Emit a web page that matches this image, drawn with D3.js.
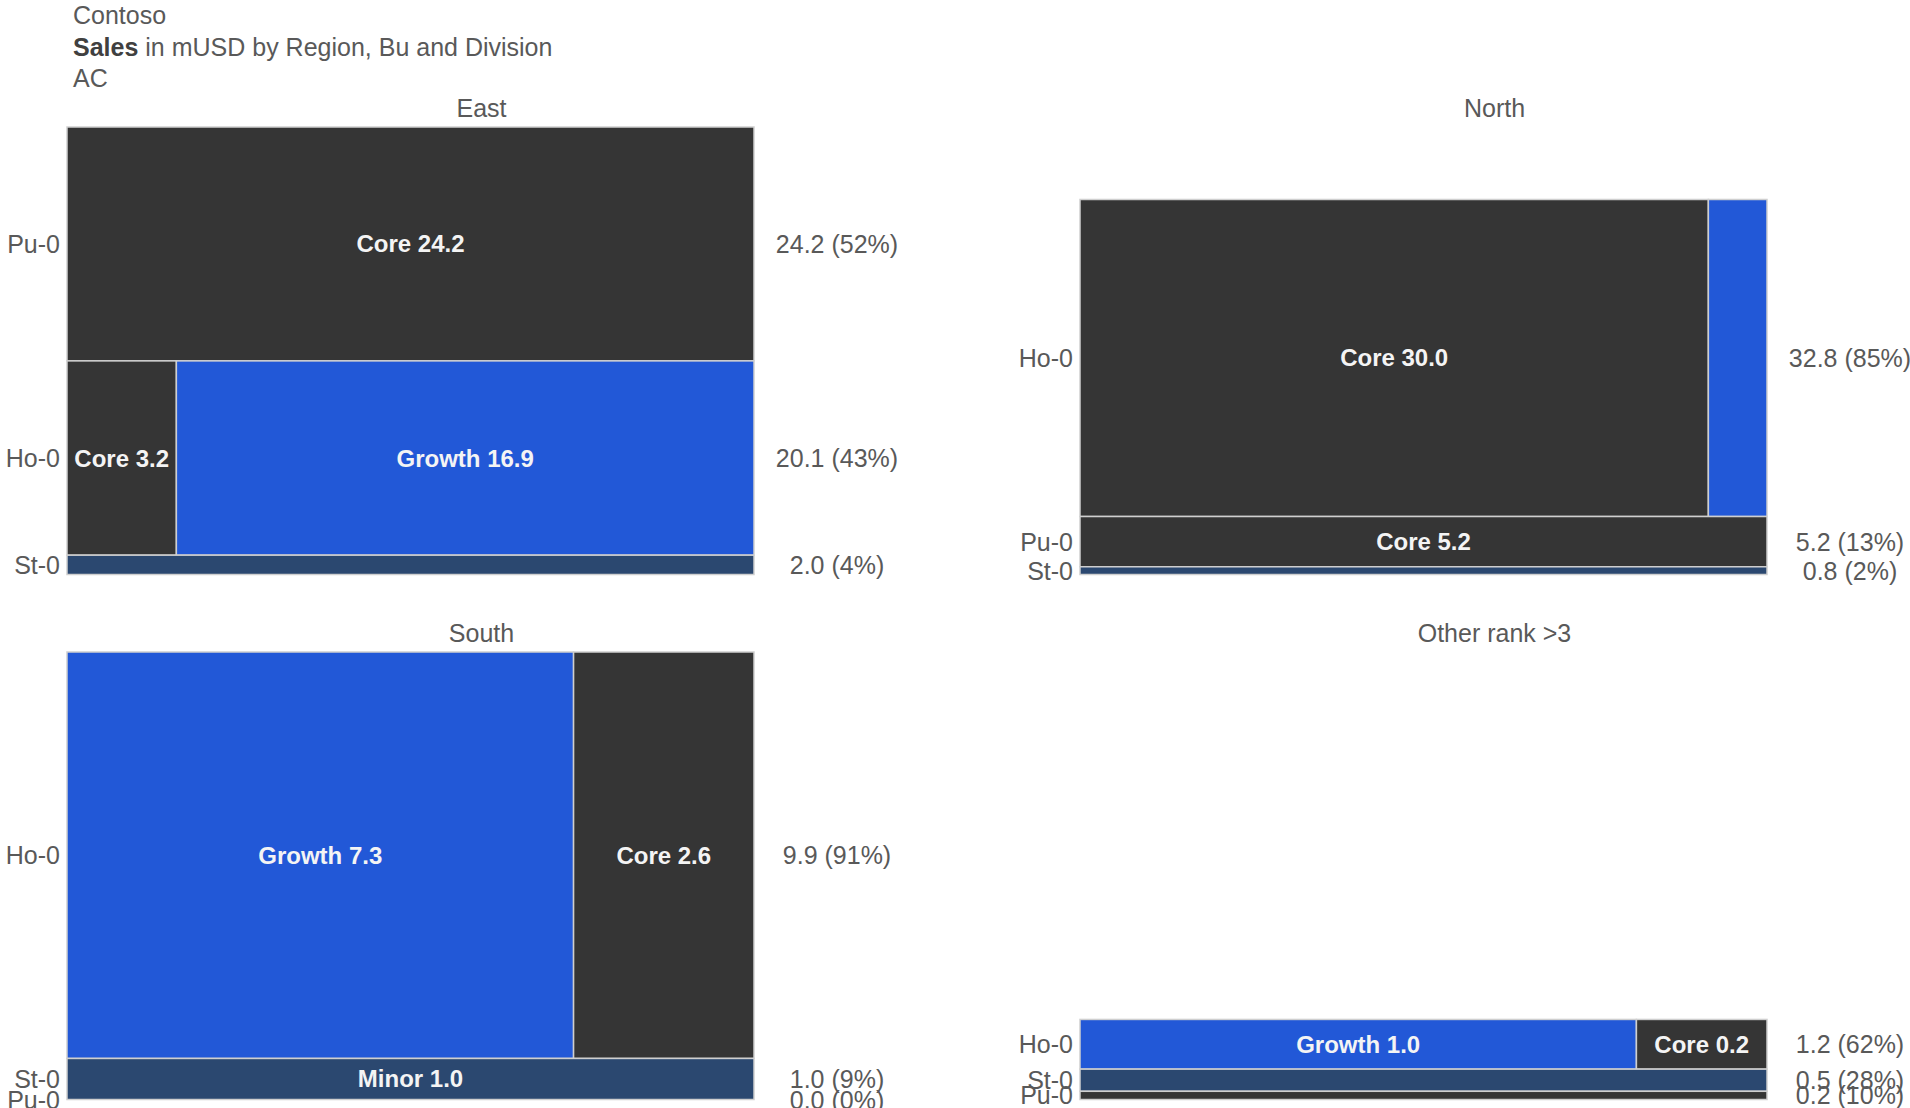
<!DOCTYPE html>
<html>
<head>
<meta charset="utf-8">
<script src="https://cdn.jsdelivr.net/npm/d3@7"></script>
<style>
  html, body { margin: 0; padding: 0; background: #fff; }
  svg { display: block; font-family: "Liberation Sans", Arial, sans-serif; }
</style>
</head>
<body>
<svg id="chart" width="1910" height="1108"></svg>
<script>
// Sales in mUSD, split by region (panel), business unit (row) and division (segment).
const regions = ["East", "North", "South", "Other rank >3"];
const divisions = ["Core", "Growth", "Minor"];
const divisionColors = ["#353535", "#2258d7", "#2b4870"];

// One entry per segment, in drawing order (rows top to bottom, segments left to right).
const cellRegion = [
  "East", "East", "East", "East",
  "North", "North", "North", "North",
  "South", "South", "South", "South",
  "Other rank >3", "Other rank >3", "Other rank >3", "Other rank >3"
];
const cellBu = [
  "Pu-0", "Ho-0", "Ho-0", "St-0",
  "Ho-0", "Ho-0", "Pu-0", "St-0",
  "Ho-0", "Ho-0", "St-0", "Pu-0",
  "Ho-0", "Ho-0", "St-0", "Pu-0"
];
const cellDivision = [
  "Core", "Core", "Growth", "Minor",
  "Core", "Growth", "Core", "Minor",
  "Growth", "Core", "Minor", "Core",
  "Growth", "Core", "Minor", "Core"
];
const cellValue = [
  24.2, 3.2, 16.9, 2.0,
  30.0, 2.8, 5.2, 0.8,
  7.3, 2.6, 1.0, 0.0,
  0.98, 0.23, 0.54, 0.20
];

const titleLines = ["Contoso", "Sales in mUSD by Region, Bu and Division", "AC"];

// ---- layout ----
const FONT = 25;        // gray texts
const INNER_FONT = 24;  // labels inside the segments
const plotW = 687, plotH = 447.5;
const colLeft = [67, 1080];
const rowBottom = [574.5, 1099.5];
const textGray = "#595959";

const svg = d3.select("#chart");
const color = d3.scaleOrdinal().domain(divisions).range(divisionColors);
const fmtVal = d3.format(".1f");
const fmtPct = d3.format(".0f");

// header
const header = svg.append("g").attr("fill", textGray).style("font-size", FONT + "px");
header.append("text").attr("x", 73).attr("y", 24).text(titleLines[0]);
const sub = header.append("text").attr("x", 73).attr("y", 56);
sub.append("tspan").attr("font-weight", "bold").attr("fill", "#404040").text(titleLines[1].split(" ")[0]);
sub.append("tspan").text(" " + titleLines[1].split(" ").slice(1).join(" "));
header.append("text").attr("x", 73).attr("y", 87).text(titleLines[2]);

// group cells by region and bu, keeping order
const cells = cellValue.map((v, i) => ({
  region: cellRegion[i], bu: cellBu[i], division: cellDivision[i], value: v
}));

const panels = regions.map(r => {
  const rc = cells.filter(c => c.region === r);
  const buNames = [];
  rc.forEach(c => { if (!buNames.includes(c.bu)) buNames.push(c.bu); });
  const rows = buNames.map(b => {
    const segs = rc.filter(c => c.bu === b);
    return { bu: b, segs, total: d3.sum(segs, s => s.value) };
  });
  return { region: r, rows, total: d3.sum(rows, d => d.total) };
});

// each row of panels shares one vertical scale
const gridRows = [panels.slice(0, 2), panels.slice(2, 4)];

gridRows.forEach((gp, ri) => {
  const rowMax = d3.max(gp, p => p.total);
  const yLen = d3.scaleLinear().domain([0, rowMax]).range([0, plotH]);
  const bottom = rowBottom[ri];

  gp.forEach((p, ci) => {
    const x0 = colLeft[ci];
    const g = svg.append("g");

    // panel title
    g.append("text")
      .attr("x", x0 + plotW / 2 + 71)
      .attr("y", bottom - plotH - 10)
      .attr("text-anchor", "middle")
      .attr("fill", textGray)
      .style("font-size", FONT + "px")
      .text(p.region);

    let yTop = bottom - yLen(p.total);
    p.rows.forEach(row => {
      const h = yLen(row.total);
      const y = yTop;
      yTop += h;
      const xs = d3.scaleLinear().domain([0, row.total || 1]).range([x0, x0 + plotW]);
      let acc = 0;
      row.segs.forEach(s => {
        const xa = xs(acc), xb = xs(acc + s.value);
        acc += s.value;
        if (xb - xa <= 0 || h <= 0) return;
        g.append("rect")
          .attr("x", xa).attr("y", y)
          .attr("width", xb - xa).attr("height", h)
          .attr("fill", color(s.division))
          .attr("stroke", "#cfcfcf")
          .attr("stroke-width", 1.5);
        const t = g.append("text")
          .attr("x", (xa + xb) / 2)
          .attr("y", y + h / 2)
          .attr("text-anchor", "middle")
          .attr("dominant-baseline", "central")
          .attr("fill", "#f4f4f4")
          .attr("font-weight", "bold")
          .style("font-size", INNER_FONT + "px")
          .text(s.division + " " + fmtVal(s.value));
        if (t.node().getComputedTextLength() + 8 > xb - xa || h < 26) t.remove();
      });

      // business unit label
      g.append("text")
        .attr("x", x0 - 7)
        .attr("y", y + h / 2)
        .attr("text-anchor", "end")
        .attr("dominant-baseline", "central")
        .attr("fill", textGray)
        .style("font-size", FONT + "px")
        .text(row.bu);

      // row total and share
      g.append("text")
        .attr("x", x0 + plotW + 83)
        .attr("y", y + h / 2)
        .attr("text-anchor", "middle")
        .attr("dominant-baseline", "central")
        .attr("fill", textGray)
        .style("font-size", FONT + "px")
        .text(fmtVal(row.total) + " (" + fmtPct(100 * row.total / p.total) + "%)");
    });
  });
});
</script>
</body>
</html>
